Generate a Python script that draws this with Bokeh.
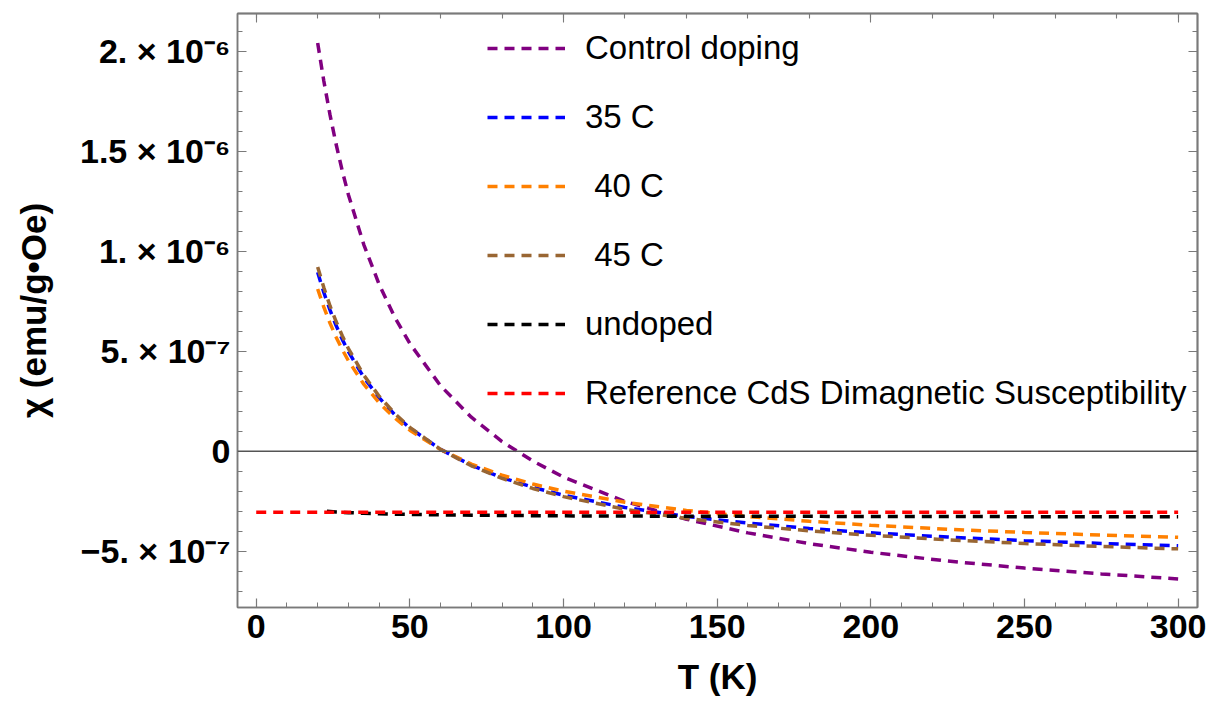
import numpy as np
from bokeh.plotting import figure
from bokeh.models import Range1d, LinearAxis, FixedTicker, Span, Legend, LegendItem
from bokeh.embed import file_html
from bokeh.resources import INLINE

# Susceptibility values are given in units of 1e-6 emu/(g·Oe)
T = [20, 22, 24, 26, 28, 30, 35, 40, 45, 50, 60, 70, 80, 90, 100, 120, 140,
     160, 180, 200, 225, 250, 275, 300]
chi_control = [2.040, 1.850, 1.682, 1.534, 1.401, 1.282, 1.033, 0.834, 0.672, 0.538,
               0.327, 0.170, 0.048, -0.049, -0.129, -0.251, -0.340, -0.408, -0.462,
               -0.505, -0.549, -0.584, -0.613, -0.638]
chi_35 = [0.894, 0.793, 0.706, 0.628, 0.559, 0.498, 0.369, 0.267, 0.184, 0.116,
          0.009, -0.070, -0.132, -0.180, -0.220, -0.281, -0.326, -0.359, -0.386,
          -0.408, -0.429, -0.447, -0.461, -0.473]
chi_40 = [0.811, 0.720, 0.640, 0.570, 0.508, 0.452, 0.335, 0.242, 0.167, 0.105,
          0.008, -0.064, -0.120, -0.164, -0.200, -0.255, -0.296, -0.326, -0.350,
          -0.370, -0.390, -0.406, -0.419, -0.430]
chi_45 = [0.921, 0.818, 0.727, 0.648, 0.577, 0.513, 0.380, 0.275, 0.190, 0.119,
          0.009, -0.073, -0.136, -0.186, -0.227, -0.290, -0.336, -0.371, -0.398,
          -0.420, -0.443, -0.461, -0.476, -0.488]
T_undoped = [23, 26, 30, 35, 40, 50, 60, 80, 100, 120, 140, 160, 200, 250, 300]
chi_undoped = [-0.300, -0.304, -0.307, -0.310, -0.313, -0.316, -0.318, -0.321, -0.323,
               -0.324, -0.325, -0.325, -0.326, -0.327, -0.327]
T_ref = [0, 300]
chi_ref = [-0.305, -0.305]

series_names = ["Control doping", "35 C", " 40 C", " 45 C", "undoped",
                "Reference CdS Dimagnetic Susceptibility"]
series_colors = ["#800080", "#0000FF", "#FF8000", "#996633", "#000000", "#FF0000"]

x_ticks = [0, 50, 100, 150, 200, 250, 300]
x_minor = list(range(0, 301, 10))
top_major = [0, 100, 200, 300]
top_minor = list(range(0, 301, 20))
y_ticks = [-0.5, 0, 0.5, 1.0, 1.5, 2.0]
y_minor = [round(-0.7 + 0.1 * i, 1) for i in range(29)]
y_tick_labels = ["\u22125. \u00d7 10\u207b\u2077", "0", "5. \u00d7 10\u207b\u2077",
                 "1. \u00d7 10\u207b\u2076", "1.5 \u00d7 10\u207b\u2076",
                 "2. \u00d7 10\u207b\u2076"]

FONT = "Liberation Sans"
GRAY = "#7a7a7a"

p = figure(width=1210, height=711, x_range=Range1d(-6.09, 306.3),
           y_range=Range1d(-0.781, 2.1875), output_backend="svg",
           toolbar_location=None, min_border_left=237, min_border_right=13,
           min_border_top=13, min_border_bottom=104)
p.xgrid.visible = False
p.ygrid.visible = False
p.outline_line_color = GRAY
p.outline_line_width = 1.5
p.background_fill_color = "white"
p.border_fill_color = "white"


def style_axis(ax):
    ax.axis_line_color = GRAY
    ax.axis_line_width = 1.5
    ax.major_tick_line_color = GRAY
    ax.minor_tick_line_color = GRAY
    ax.major_tick_line_width = 1.2
    ax.minor_tick_line_width = 1.0
    ax.major_tick_in = 9
    ax.major_tick_out = 0
    ax.minor_tick_in = 5
    ax.minor_tick_out = 0
    ax.major_label_text_font = FONT
    ax.major_label_text_font_style = "bold"
    ax.major_label_text_font_size = "34px"
    ax.major_label_text_color = "black"
    ax.axis_label_text_font = FONT
    ax.axis_label_text_font_style = "bold"
    ax.axis_label_text_font_size = "35px"
    ax.axis_label_text_color = "black"


def tick_only_axis(ticks, length):
    # an axis with no major ticks (so no labels) that draws only tick marks
    ax = LinearAxis(ticker=FixedTicker(ticks=[], minor_ticks=ticks))
    ax.axis_line_color = GRAY
    ax.axis_line_width = 1.5
    ax.minor_tick_line_color = GRAY
    ax.minor_tick_line_width = 1.1
    ax.minor_tick_in = length
    ax.minor_tick_out = 0
    ax.major_tick_out = 0
    ax.major_label_standoff = 0
    return ax


xax = p.xaxis[0]
xax.ticker = FixedTicker(ticks=x_ticks, minor_ticks=x_minor)
style_axis(xax)
xax.axis_label = "T (K)"
xax.major_label_standoff = 7
xax.axis_label_standoff = 16

yax = p.yaxis[0]
yax.ticker = FixedTicker(ticks=y_ticks, minor_ticks=y_minor)
style_axis(yax)
yax.major_label_overrides = {t: s for t, s in zip(y_ticks, y_tick_labels)}
yax.axis_label = "\u03c7 (emu/g\u2022Oe)"
yax.major_label_standoff = 7
yax.axis_label_standoff = 24

p.add_layout(tick_only_axis(top_minor, 5), "above")
p.add_layout(tick_only_axis(top_major, 9), "above")
p.add_layout(tick_only_axis(y_minor, 5), "right")
p.add_layout(tick_only_axis(y_ticks, 9), "right")

p.add_layout(Span(location=0, dimension="width", line_color="#555555", line_width=1.5))

xs = [T, T, T, T, T_undoped, T_ref]
ys = [chi_control, chi_35, chi_40, chi_45, chi_undoped, chi_ref]
items = []
for name, col, x, y in zip(series_names, series_colors, xs, ys):
    r = p.line(x, y, line_color=col, line_width=3.5, line_dash="10 7")
    items.append(LegendItem(label=name, renderers=[r]))

legend = Legend(items=items, location=(250, 194), padding=0, margin=0, spacing=29,
                label_standoff=20, glyph_width=78, glyph_height=40, label_height=40,
                border_line_color=None, background_fill_alpha=0,
                label_text_font=FONT, label_text_font_size="33px",
                label_text_color="black")
p.add_layout(legend)

open("out.html", "w").write(file_html(p, INLINE))
